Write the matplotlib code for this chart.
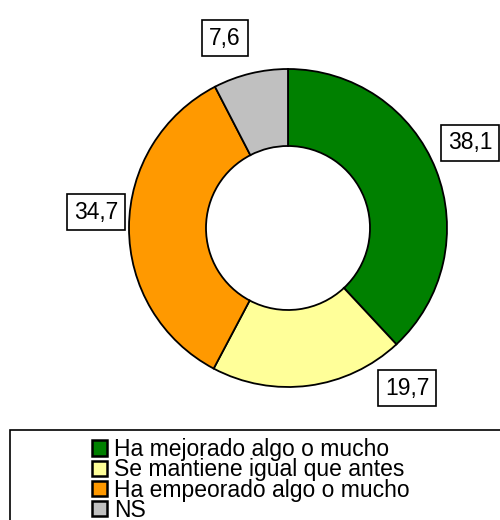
import matplotlib
matplotlib.use("Agg")
import matplotlib.pyplot as plt
from matplotlib.patches import Rectangle

plt.rcParams['font.family'] = ['Liberation Sans', 'DejaVu Sans']

categorias = ["Ha mejorado algo o mucho", "Se mantiene igual que antes",
              "Ha empeorado algo o mucho", "NS"]
valores = [38.1, 19.7, 34.7, 7.6]
etiquetas = ["38,1", "19,7", "34,7", "7,6"]
colores = ["#008000", "#FFFF99", "#FF9900", "#C0C0C0"]

# posiciones de las etiquetas (pixeles, eje y hacia arriba)
pos_etiquetas = [(470, 377), (407, 132), (96, 308), (225, 482)]

fig = plt.figure(figsize=(5, 5.2), dpi=100)
ax = fig.add_axes([0, 0, 1, 1])

wedges, _ = ax.pie(valores, colors=colores, startangle=90, counterclock=False,
                   center=(288, 292), radius=159,
                   wedgeprops=dict(width=77, edgecolor="black", linewidth=1.3))
ax.set_xlim(0, 500)
ax.set_ylim(0, 520)
ax.set_aspect("equal")
ax.axis("off")

for txt, (x, y) in zip(etiquetas, pos_etiquetas):
    ax.text(x, y, txt, ha="center", va="center", fontsize=16.5,
            bbox=dict(boxstyle="square,pad=0.3", facecolor="white",
                      edgecolor="black", linewidth=1.2))

# marco de la leyenda
ax.add_patch(Rectangle((10, -10), 500, 100, facecolor="white",
                       edgecolor="black", linewidth=1.2, clip_on=False))

leg = ax.legend(wedges, categorias, loc="upper left",
                bbox_to_anchor=(92 / 500, (520 - 438) / 520), frameon=False,
                fontsize=16.5, handlelength=0.65, handleheight=0.65,
                handletextpad=0.3, labelspacing=-0.12, borderpad=0,
                borderaxespad=0)
for h in leg.legend_handles:
    h.set_linewidth(1.8)

fig.savefig("out.png", dpi=100)
